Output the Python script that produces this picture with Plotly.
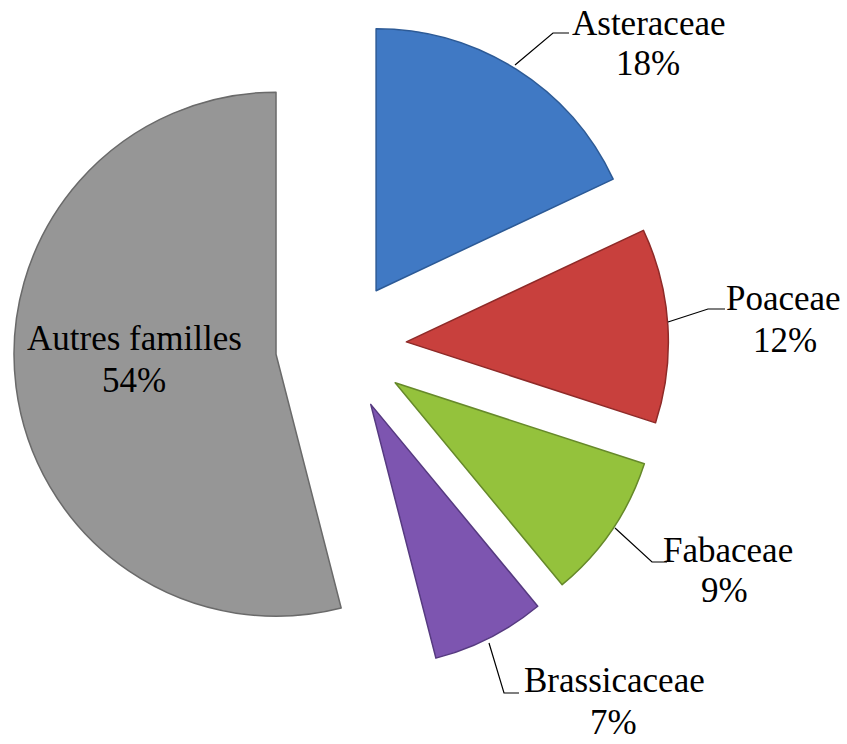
import plotly.graph_objects as go

# ---- data ----
families = ["Asteraceae", "Poaceae", "Fabaceae", "Brassicaceae", "Autres familles"]
percent = [18, 12, 9, 7, 54]

# ---- style ----
colors = ["#4079c4", "#c8403d", "#94c23c", "#7d55b0", "#969696"]
edge_colors = ["#2c5a96", "#8e2a28", "#66892a", "#563a80", "#6a6a6a"]
pulls = [0.25, 0.25, 0.25, 0.25, 0.25]

W, H = 847, 744

def px(x):
    return x / W

def py(y):
    return 1 - y / H

fig = go.Figure(go.Pie(
    labels=families,
    values=percent,
    sort=False,
    direction="clockwise",
    rotation=0,
    pull=pulls,
    textinfo="none",
    hoverinfo="label+percent",
    marker=dict(colors=colors, line=dict(color=edge_colors, width=1.5)),
    domain=dict(x=[px(13.5), px(668.5)], y=[py(673.5), py(18.5)]),
    showlegend=False,
))

# label layout (pixel positions of name line / percent line)
label_pos = [
    (648, 23.4, 648, 63.4),
    (783, 298.4, 785, 340.4),
    (728, 550.4, 724, 590.4),
    (614, 680.5, 613, 722.5),
    (134, 338.4, 134, 380.4),
]
leaders = [
    [(515, 65), (553, 33), (569, 33)],
    [(668, 322), (708, 309), (725, 309)],
    [(615, 528), (652, 562), (667, 562)],
    [(489, 643), (504, 693), (519, 693)],
    None,
]

font = dict(family="Liberation Serif, Times New Roman, serif", size=35, color="#000000")
annotations = []
shapes = []
for name, val, (nx, ny, vx, vy), lead in zip(families, percent, label_pos, leaders):
    annotations.append(dict(text=name, x=px(nx), y=py(ny), xref="paper", yref="paper",
                            xanchor="center", yanchor="middle", showarrow=False, font=font,
                            borderpad=0))
    annotations.append(dict(text=f"{val}%", x=px(vx), y=py(vy), xref="paper", yref="paper",
                            xanchor="center", yanchor="middle", showarrow=False, font=font,
                            borderpad=0))
    if lead:
        path = "M " + " L ".join(f"{px(x):.5f},{py(y):.5f}" for x, y in lead)
        shapes.append(dict(type="path", path=path, xref="paper", yref="paper",
                           line=dict(color="#000000", width=1.2)))

fig.update_layout(
    width=W, height=H,
    margin=dict(l=0, r=0, t=0, b=0),
    paper_bgcolor="white",
    plot_bgcolor="white",
    annotations=annotations,
    shapes=shapes,
)

fig.write_html("out.html", config={"displayModeBar": False},
               post_script="document.body.style.margin='0';")
